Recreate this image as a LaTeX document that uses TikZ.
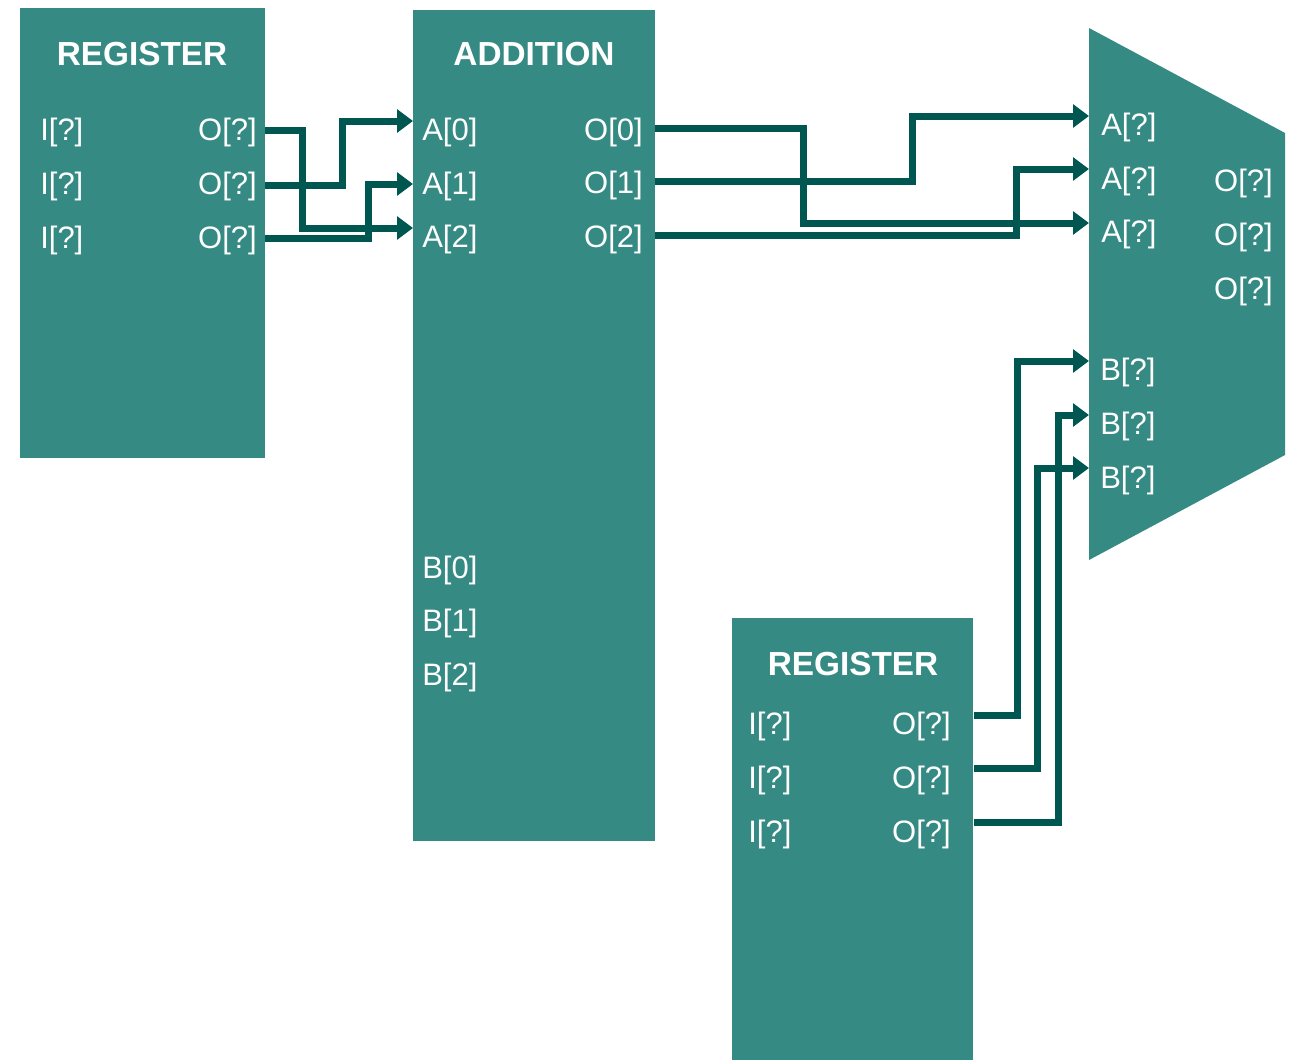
\documentclass[tikz,border=0pt]{standalone}
\usepackage{fontspec}
\setmainfont{Liberation Sans}
\usetikzlibrary{arrows.meta,fit}
\definecolor{blkfill}{RGB}{53,138,131}
\definecolor{wire}{RGB}{0,87,82}
\tikzset{
  blk/.style={fill=blkfill,draw=none,inner sep=0pt},
  ttl/.style={text=white,font=\fontsize{25}{30}\selectfont\bfseries,inner sep=0pt},
  lbl/.style={text=white,font=\fontsize{23.25}{28}\selectfont,inner sep=0pt,yshift=-1.5pt},
  lw/.style={lbl,anchor=west},
  le/.style={lbl,anchor=east},
  wireline/.style={draw=wire,line width=5.25pt},
  arr/.style={wireline,-{Triangle[length=12pt,width=17pt]}}
}
\begin{document}
\begin{tikzpicture}[x=0.75pt,y=-0.75pt]
\useasboundingbox (0,0) rectangle (1294,1060);
% blocks
\node[blk,fit={(20,8) (265,458)}] (reg1) {};
\node[blk,fit={(413,10) (655,841)}] (add) {};
\node[blk,fit={(732,618) (973,1060)}] (reg2) {};
\fill[blkfill] (1089,28) -- (1285,133) -- (1285,455) -- (1089,560) -- cycle;
\coordinate (mux) at (1187,294);
% titles
\node[ttl] (t1) at (142,54) {REGISTER};
\node[ttl] (t2) at (534,54) {ADDITION};
\node[ttl] (t3) at (853,664) {REGISTER};
% register 1 labels
\node[lw] (r1i1) at (40,130) {I[?]};
\node[lw] (r1i2) at (40,184) {I[?]};
\node[lw] (r1i3) at (40,238) {I[?]};
\node[le] (r1l1) at (257,130) {O[?]};
\node[le] (r1l2) at (257,184) {O[?]};
\node[le] (r1l3) at (257,238) {O[?]};
% addition labels
\node[lw] (ad0) at (422,130) {A[0]};
\node[lw] (ad1) at (422,184) {A[1]};
\node[lw] (ad2) at (422,237) {A[2]};
\node[le] (ao0) at (643,130) {O[0]};
\node[le] (ao1) at (643,183) {O[1]};
\node[le] (ao2) at (643,237) {O[2]};
\node[lw] (bd0) at (422,568) {B[0]};
\node[lw] (bd1) at (422,621) {B[1]};
\node[lw] (bd2) at (422,675) {B[2]};
% mux labels
\node[lw] (ma1) at (1101,125) {A[?]};
\node[lw] (ma2) at (1101,179) {A[?]};
\node[lw] (ma3) at (1101,232) {A[?]};
\node[le] (mo1) at (1273,181) {O[?]};
\node[le] (mo2) at (1273,235) {O[?]};
\node[le] (mo3) at (1273,289) {O[?]};
\node[lw] (mb1) at (1100,370) {B[?]};
\node[lw] (mb2) at (1100,424) {B[?]};
\node[lw] (mb3) at (1100,478) {B[?]};
% register 2 labels
\node[lw] (r2i1) at (748,724) {I[?]};
\node[lw] (r2i2) at (748,778) {I[?]};
\node[lw] (r2i3) at (748,832) {I[?]};
\node[le] (r2l1) at (951,724) {O[?]};
\node[le] (r2l2) at (951,778) {O[?]};
\node[le] (r2l3) at (951,832) {O[?]};
% port coordinates
\coordinate (p1o1) at (265,130);
\coordinate (p1o2) at (265,185);
\coordinate (p1o3) at (265,238);
\coordinate (pa0) at (413,121);
\coordinate (pa1) at (413,184);
\coordinate (pa2) at (413,228);
\coordinate (pao0) at (655,128);
\coordinate (pao1) at (655,181);
\coordinate (pao2) at (655,235);
\coordinate (pma1) at (1089,116);
\coordinate (pma2) at (1089,169);
\coordinate (pma3) at (1089,223);
\coordinate (pmb1) at (1089,361);
\coordinate (pmb2) at (1089,415);
\coordinate (pmb3) at (1089,468);
\coordinate (p2o1) at (974,715);
\coordinate (p2o2) at (974,768);
\coordinate (p2o3) at (974,822);
% connectors
\draw[arr] (p1o1) -- (302,130) |- (pa2);
\draw[arr] (p1o2) -- (342,185) |- (pa0);
\draw[arr] (p1o3) -- (368,238) |- (pa1);
\draw[arr] (pao0) -- (803,128) |- (pma3);
\draw[arr] (pao1) -- (912,181) |- (pma1);
\draw[arr] (pao2) -- (1016,235) |- (pma2);
\draw[arr] (p2o1) -- (1017,715) |- (pmb1);
\draw[arr] (p2o2) -- (1037,768) |- (pmb3);
\draw[arr] (p2o3) -- (1058,822) |- (pmb2);
\end{tikzpicture}
\end{document}
